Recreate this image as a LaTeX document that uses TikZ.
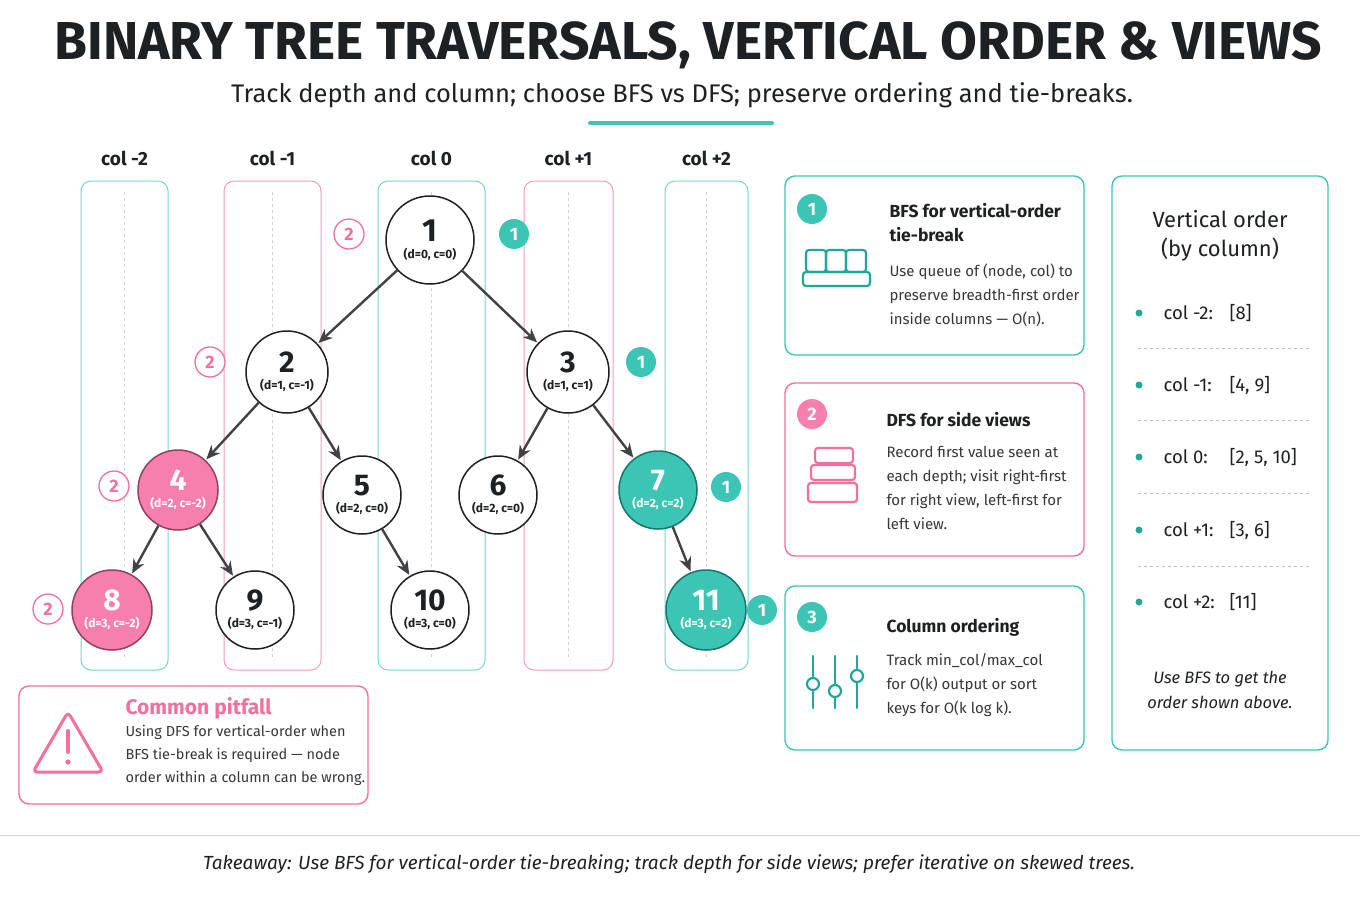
\documentclass[tikz,border=0pt]{standalone}
\usepackage{fontspec}
\setmainfont{Fira Sans}
\usetikzlibrary{arrows.meta}
\definecolor{teal}{HTML}{3CC4B4}
\definecolor{tealD}{HTML}{1FA898}
\definecolor{pink}{HTML}{F2709C}
\definecolor{pinkF}{HTML}{F77FAE}
\definecolor{ink}{HTML}{1E2124}
\newcommand\smt{\bfseries\fontsize{12}{12}\selectfont}
\newcommand\bgn{\fontsize{30}{30}\selectfont\bfseries}
\begin{document}
\begin{tikzpicture}[x=1pt,y=-1pt,
 lane/.style={rounded corners=10pt,line width=1pt},
 tn/.style={circle,draw=ink,line width=1.5pt,fill=white,minimum size=#1*2pt,inner sep=0pt,align=center,text=ink},
 edge/.style={-{Stealth[length=14pt,width=12pt]},line width=2.4pt,draw=ink!85,shorten >=1pt},
 bp/.style={circle,draw=pink,line width=1.3pt,fill=white,text=pink,minimum size=30pt,inner sep=0pt,font=\bfseries\fontsize{18}{18}\selectfont},
 bt/.style={circle,fill=teal,text=white,minimum size=30pt,inner sep=0pt,font=\bfseries\fontsize{18}{18}\selectfont},
 card/.style={rounded corners=10pt,line width=1.4pt,fill=white},
 ctitle/.style={anchor=west,font=\bfseries\fontsize{17.5}{24}\selectfont,text=ink,align=left},
 cbody/.style={anchor=north west,font=\fontsize{15}{24}\selectfont,text=ink!90,align=left},
 ic/.style={line width=2.2pt,rounded corners=3pt}]
\useasboundingbox[fill=white] (0,0) rectangle (1360,907);
% title
\node[font=\bfseries\fontsize{50}{50}\selectfont,text=ink] (title) at (688,45) {\resizebox{1267pt}{!}{BINARY TREE TRAVERSALS, VERTICAL ORDER \& VIEWS}};
\node[font=\fontsize{25.5}{25.5}\selectfont,text=ink] (sub) at (682,95) {Track depth and column; choose BFS vs DFS; preserve ordering and tie-breaks.};
\draw[teal,line width=4pt,line cap=round] (590,123) -- (772,123);
% lanes
\foreach \a/\b/\c/\l in {81/168/teal/-2,224/321/pink/-1,378/485/teal/0,524/613/pink/+1,665/748/teal/+2}{
 \draw[lane,draw=\c!70] (\a,181) rectangle (\b,670);
 \draw[dashed,gray!35,line width=0.8pt] ({(\a+\b)/2},192) -- ({(\a+\b)/2},660);
 \node[font=\bfseries\fontsize{19}{19}\selectfont,text=ink] at ({(\a+\b)/2},158) {col \l};
}
% nodes
\node[tn=44] (n1) at (430,240) {\fontsize{32}{32}\selectfont\bfseries 1\\[5pt]\smt (d=0, c=0)};
\node[tn=41] (n2) at (287,372) {\bgn 2\\[5pt]\smt (d=1, c=-1)};
\node[tn=41] (n3) at (568,372) {\bgn 3\\[5pt]\smt (d=1, c=1)};
\node[tn=40,fill=pinkF,draw=pink!60!black,text=white] (n4) at (178,490) {\bgn 4\\[5pt]\smt (d=2, c=-2)};
\node[tn=39] (n5) at (362,495) {\bgn 5\\[5pt]\smt (d=2, c=0)};
\node[tn=39] (n6) at (498,495) {\bgn 6\\[5pt]\smt (d=2, c=0)};
\node[tn=39,fill=teal,draw=tealD!70!black,text=white] (n7) at (658,490) {\bgn 7\\[5pt]\smt (d=2, c=2)};
\node[tn=40,fill=pinkF,draw=pink!60!black,text=white] (n8) at (112,610) {\bgn 8\\[5pt]\smt (d=3, c=-2)};
\node[tn=39] (n9) at (255,610) {\bgn 9\\[5pt]\smt (d=3, c=-1)};
\node[tn=39] (n10) at (430,610) {\bgn 10\\[5pt]\smt (d=3, c=0)};
\node[tn=40,fill=teal,draw=tealD!70!black,text=white] (n11) at (706,610) {\bgn 11\\[5pt]\smt (d=3, c=2)};
\foreach \a/\b in {n1/n2,n1/n3,n2/n4,n2/n5,n3/n6,n3/n7,n4/n8,n4/n9,n5/n10,n7/n11}
 \draw[edge] (\a) -- (\b);
% badges
\node[bp] (p1) at (349,234) {2};
\node[bp] (p2) at (210,362) {2};
\node[bp] (p3) at (114,486) {2};
\node[bp] (p4) at (48,609) {2};
\node[bt] (t1) at (514,234) {1};
\node[bt] (t2) at (641,362) {1};
\node[bt] (t3) at (726,487) {1};
\node[bt] (t4) at (762,610) {1};
% card 1
\draw[card,draw=teal] (785,176) rectangle (1084,355);
\node[bt] (c1) at (812,209) {1};
\node[ctitle] (c1t) at (886,223) {BFS for vertical-order\\tie-break};
\node[cbody] (c1b) at (886,260) {Use queue of (node, col) to\\preserve breadth-first order\\inside columns — O(n).};
\foreach \x in {806,826,846} \draw[ic,draw=tealD] (\x,250) rectangle ++(20,22);
\draw[ic,draw=tealD] (803,272) rectangle (870,286);
% card 2
\draw[card,draw=pink] (785,383) rectangle (1084,556);
\node[circle,fill=pinkF,text=white,minimum size=30pt,inner sep=0pt,font=\bfseries\fontsize{18}{18}\selectfont] (c2) at (812,414) {2};
\node[ctitle] (c2t) at (883,420) {DFS for side views};
\node[cbody] (c2b) at (883,443) {Record first value seen at\\each depth; visit right-first\\for right view, left-first for\\left view.};
\draw[ic,draw=pink] (815,448) rectangle (853,463);
\draw[ic,draw=pink] (811,465) rectangle (855,480);
\draw[ic,draw=pink] (808,483) rectangle (857,502);
% card 3
\draw[card,draw=teal] (785,586) rectangle (1084,750);
\node[bt] (c3) at (812,617) {3};
\node[ctitle] (c3t) at (883,627) {Column ordering};
\node[cbody] (c3b) at (883,650) {Track min\_col/max\_col\\for O(k) output or sort\\keys for O(k log k).};
\foreach \x/\y in {813/684,835/691,857/676}{
 \draw[line width=2.2pt,draw=tealD,line cap=round] (\x,656) -- (\x,708);
 \draw[line width=2.2pt,draw=tealD,fill=white] (\x,\y) circle (6);
}
% right panel
\draw[card,draw=teal] (1112,176) rectangle (1328,750);
\node[font=\fontsize{22}{29}\selectfont,text=ink,align=center] (vt) at (1220,236) {Vertical order\\(by column)};
\foreach \y/\t/\v in {313/-2:/[8],385/-1:/{[4, 9]},457/0:/{[2, 5, 10]},530/+1:/{[3, 6]},602/+2:/[11]}{
 \fill[tealD] (1139,\y) circle (3.5);
 \node[anchor=west,font=\fontsize{18.5}{18}\selectfont,text=ink] at (1160,\y) {col \t};
 \node[anchor=west,font=\fontsize{18.5}{18}\selectfont,text=ink] at (1226,\y) {\v};
}
\foreach \y in {348,420,493,566} \draw[dashed,gray!50] (1138,\y) -- (1312,\y);
\node[font=\itshape\fontsize{16.5}{25}\selectfont,text=ink,align=center] (vn) at (1220,690) {Use BFS to get the\\order shown above.};
% pitfall
\draw[card,draw=pink] (19,686) rectangle (368,804);
\draw[line width=3pt,draw=pink,line join=round,rounded corners=4pt] (68,712) -- (103,772) -- (33,772) -- cycle;
\draw[line width=4pt,draw=pink,line cap=round] (68,731) -- (68,752);
\fill[pink] (68,762) circle (2.6);
\node[anchor=west,font=\bfseries\fontsize{21}{21}\selectfont,text=pink] (pt) at (122,708) {Common pitfall};
\node[cbody,font=\fontsize{14.5}{23}\selectfont] (pb) at (122,722) {Using DFS for vertical-order when\\BFS tie-break is required — node\\order within a column can be wrong.};
% takeaway
\draw[gray!35,line width=1pt] (0,835) -- (1360,835);
\node[font=\itshape\fontsize{19}{19}\selectfont,text=ink] (tk) at (669,864) {Takeaway: Use BFS for vertical-order tie-breaking; track depth for side views; prefer iterative on skewed trees.};
\end{tikzpicture}
\end{document}
